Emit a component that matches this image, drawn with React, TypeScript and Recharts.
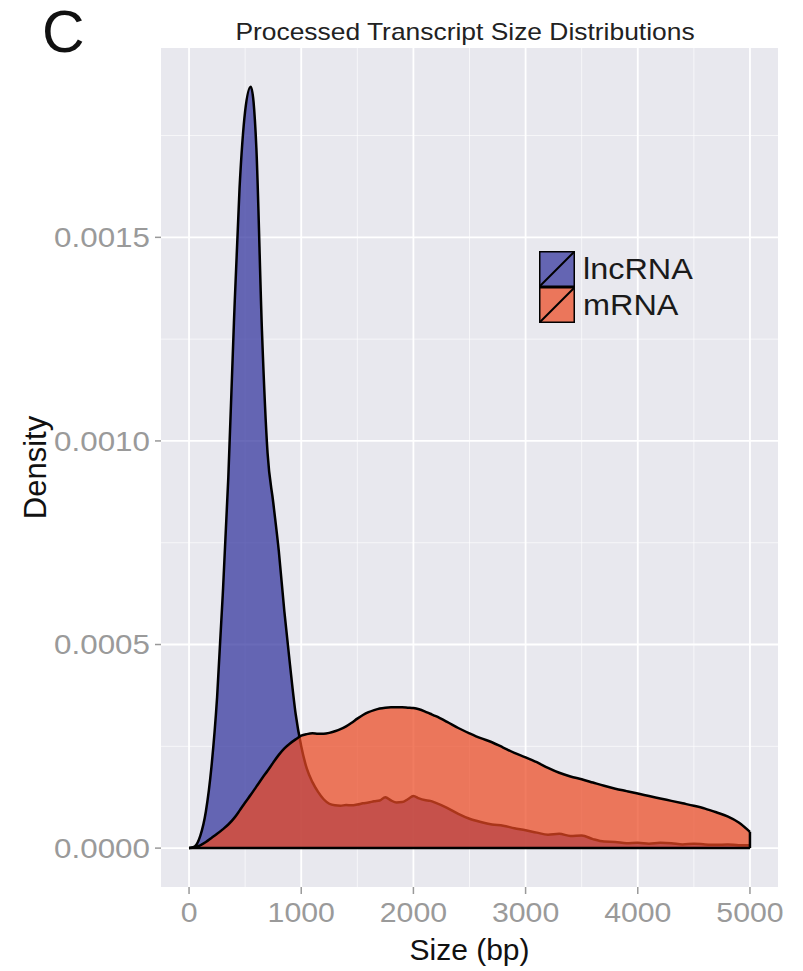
import React from 'react';
import {
  ComposedChart,
  Area,
  XAxis,
  YAxis,
  CartesianGrid,
  ReferenceLine,
  Legend,
  Label,
} from 'recharts';

// ---- data ----
const sizes = [
  0, 50, 100, 150, 200, 250, 300, 350, 400, 450,
  500, 550, 600, 650, 700, 750, 800, 850, 900, 950,
  1000, 1050, 1100, 1150, 1200, 1250, 1300, 1350, 1400, 1450,
  1500, 1550, 1600, 1650, 1700, 1750, 1800, 1850, 1900, 1950,
  2000, 2050, 2100, 2150, 2200,
  2300, 2400, 2500, 2600, 2700, 2800, 2900, 3000,
  3100, 3200, 3300, 3400, 3500, 3600, 3700, 3800, 3900, 4000,
  4100, 4200, 4300, 4400, 4500, 4600, 4700, 4800, 4900, 5000,
];

const lncRNA = [
  0, 0.000004, 0.00003, 0.00009, 0.0002, 0.00037, 0.00062, 0.00091, 0.00129, 0.00162,
  0.00181, 0.00187, 0.00172, 0.00127, 0.00097, 0.00085, 0.00073, 0.00058, 0.00045, 0.00033,
  0.00025, 0.000195, 0.000162, 0.000138, 0.00012, 0.000109, 0.000105, 0.000104, 0.000106, 0.000105,
  0.000107, 0.00011, 0.000112, 0.000115, 0.000117, 0.000125, 0.000117, 0.000112, 0.000113, 0.00012,
  0.000128, 0.000122, 0.000118, 0.000116, 0.000111,
  0.000099, 0.000084, 0.000072, 0.000064, 0.000058, 0.000055, 0.000049, 0.000044,
  0.000038, 0.000033, 0.000035, 0.00003, 0.000031, 0.000022, 0.000016, 0.000015, 0.000012, 0.000013,
  0.000011, 0.000013, 0.000012, 0.000009, 0.000011, 0.000009, 0.000008, 0.000009, 0.000007, 0.000007,
];

const mRNA = [
  0, 0.000002, 0.000007, 0.000015, 0.000025, 0.000035, 0.000046, 0.000058, 0.000073, 0.000092,
  0.000112, 0.000131, 0.000151, 0.000171, 0.00019, 0.00021, 0.000229, 0.000245, 0.000257, 0.000267,
  0.000276, 0.00028, 0.000282, 0.000281, 0.000281, 0.000283, 0.000287, 0.000292, 0.000299, 0.000308,
  0.000318, 0.000327, 0.000334, 0.000339, 0.000343, 0.000345, 0.000346, 0.000346, 0.000346, 0.000345,
  0.000344, 0.000341, 0.000336, 0.00033, 0.000324,
  0.00031, 0.000295, 0.000282, 0.00027, 0.00026, 0.000247, 0.000234, 0.000223,
  0.000211, 0.000197, 0.000185, 0.000176, 0.000169, 0.000161, 0.000153, 0.000146, 0.00014, 0.000134,
  0.000128, 0.000122, 0.000116, 0.00011, 0.000104, 0.000097, 0.000088, 0.000078, 0.000063, 0.00004,
];

const seriesNames = ['lncRNA', 'mRNA'];
const seriesFills = ['#31329c', '#eb4a22'];
const xTicks = [0, 1000, 2000, 3000, 4000, 5000];
const xMinor = [500, 1500, 2500, 3500, 4500];
const yTicks = [0, 0.0005, 0.001, 0.0015];
const yMinor = [0.00025, 0.00075, 0.00125, 0.00175];

const data = sizes.map((s, i) => ({ size: s, lncRNA: lncRNA[i], mRNA: mRNA[i] }));

const FONT = '"Liberation Sans", Arial, Helvetica, sans-serif';
const FILL_OPACITY = 0.72;
const TICK_COLOR = '#9a9a9a';

const XTick = (props: any) => {
  const { x, y, payload } = props;
  return (
    <g transform={`translate(${x},${y})`}>
      <text
        transform="scale(1.08,1)"
        textAnchor="middle"
        dy="0.71em"
        fontSize={28}
        fill={TICK_COLOR}
        fontFamily={FONT}
      >
        {payload.value}
      </text>
    </g>
  );
};

const YTick = (props: any) => {
  const { x, y, payload } = props;
  return (
    <g transform={`translate(${x},${y})`}>
      <text
        transform="scale(1.12,1)"
        textAnchor="end"
        dy="0.355em"
        fontSize={28}
        fill={TICK_COLOR}
        fontFamily={FONT}
      >
        {Number(payload.value).toFixed(4)}
      </text>
    </g>
  );
};

const renderLegend = () => (
  <div style={{ display: 'flex', flexDirection: 'column', fontFamily: FONT }}>
    {seriesNames.map((n, i) => (
      <div key={n} style={{ display: 'flex', alignItems: 'center', height: 36 }}>
        <svg width={36} height={36} style={{ display: 'block' }}>
          <rect x={0.75} y={0.75} width={34.5} height={34.5} fill="#e8e8ee" />
          <rect
            x={0.75}
            y={0.75}
            width={34.5}
            height={34.5}
            fill={seriesFills[i]}
            fillOpacity={FILL_OPACITY}
            stroke="#000"
            strokeWidth={1.5}
          />
          <line x1={1} y1={35} x2={35} y2={1} stroke="#000" strokeWidth={2} />
        </svg>
        <span
          style={{
            marginLeft: 8,
            fontSize: 30,
            color: '#1a1a1a',
            lineHeight: '36px',
            display: 'inline-block',
            transform: 'scaleX(1.08)',
            transformOrigin: 'left center',
          }}
        >
          {n}
        </span>
      </div>
    ))}
  </div>
);

export default function App() {
  const W = 803;
  const H = 971;
  return (
    <div style={{ position: 'relative', width: W, height: H, fontFamily: FONT, background: '#fff' }}>
      <style>{'body{margin:0}'}</style>
      <div
        style={{
          position: 'absolute',
          left: 42,
          top: 3,
          fontSize: 59,
          lineHeight: '59px',
          color: '#111',
          zIndex: 2,
        }}
      >
        C
      </div>
      <div
        style={{
          position: 'absolute',
          left: 465,
          top: 20,
          transform: 'translateX(-50%) scaleX(1.1)',
          whiteSpace: 'nowrap',
          fontSize: 24,
          lineHeight: '24px',
          color: '#222',
          zIndex: 2,
        }}
      >
        Processed Transcript Size Distributions
      </div>
      <ComposedChart
        width={W}
        height={H}
        data={data}
        margin={{ top: 48, right: 25, bottom: 0, left: 0 }}
      >
        <CartesianGrid
          fill="#e8e8ee"
          stroke="#ffffff"
          strokeWidth={0.9}
          strokeOpacity={0.7}
          verticalValues={xMinor}
          horizontalValues={yMinor}
        />
        <CartesianGrid
          fill="none"
          stroke="#ffffff"
          strokeWidth={1.8}
          verticalValues={xTicks}
          horizontalValues={yTicks}
        />
        <XAxis
          dataKey="size"
          type="number"
          domain={[-250, 5250]}
          ticks={xTicks}
          allowDataOverflow
          height={84}
          axisLine={false}
          tickLine={{ stroke: '#999', strokeWidth: 1.5 }}
          tickSize={7}
          tickMargin={8}
          tick={<XTick />}
        >
          <Label
            value="Size (bp)"
            position="insideBottom"
            offset={11}
            style={{ fontSize: 30, fill: '#111', fontFamily: FONT }}
          />
        </XAxis>
        <YAxis
          type="number"
          domain={[-0.0000955, 0.001965]}
          ticks={yTicks}
          allowDataOverflow
          width={161}
          axisLine={false}
          tickLine={{ stroke: '#999', strokeWidth: 1.5 }}
          tickSize={6}
          tickMargin={5}
          tick={<YTick />}
        >
          <Label
            value="Density"
            angle={-90}
            position="insideLeft"
            offset={35}
            style={{ fontSize: 31, fill: '#111', fontFamily: FONT, textAnchor: 'middle' }}
          />
        </YAxis>
        <Area
          dataKey="lncRNA"
          name="lncRNA"
          type="monotone"
          fill={seriesFills[0]}
          fillOpacity={FILL_OPACITY}
          stroke="#000"
          strokeWidth={2.5}
          dot={false}
          activeDot={false}
          isAnimationActive={false}
        />
        <Area
          dataKey="mRNA"
          name="mRNA"
          type="monotone"
          fill={seriesFills[1]}
          fillOpacity={FILL_OPACITY}
          stroke="#000"
          strokeWidth={2.5}
          dot={false}
          activeDot={false}
          isAnimationActive={false}
        />
        <ReferenceLine
          segment={[
            { x: sizes[0], y: 0 },
            { x: sizes[sizes.length - 1], y: 0 },
          ]}
          stroke="#000"
          strokeWidth={2.5}
        />
        <ReferenceLine
          segment={[
            { x: sizes[sizes.length - 1], y: 0 },
            { x: sizes[sizes.length - 1], y: mRNA[mRNA.length - 1] },
          ]}
          stroke="#000"
          strokeWidth={2.5}
        />
        <Legend
          layout="horizontal"
          verticalAlign="middle"
          align="center"
          content={renderLegend}
          wrapperStyle={{ position: 'absolute', left: 539, top: 251, width: 'auto' }}
        />
      </ComposedChart>
    </div>
  );
}
